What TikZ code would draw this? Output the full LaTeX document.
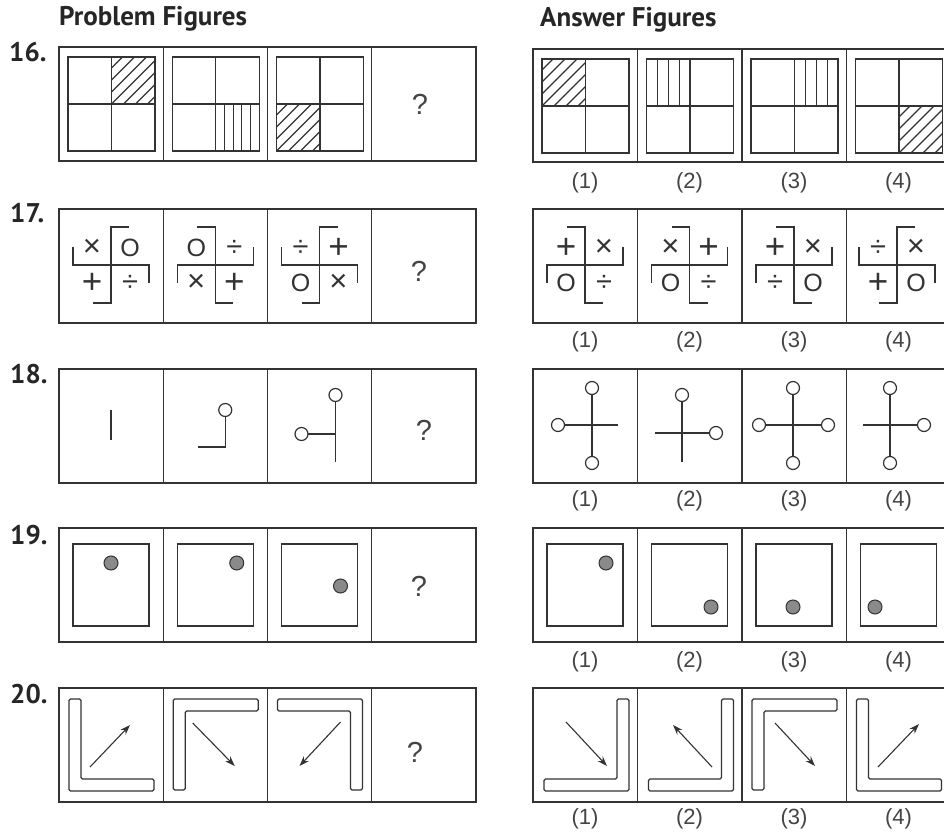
\documentclass[tikz,border=0pt]{standalone}
\usepackage{fontspec}
\setmainfont{Liberation Sans}
\newfontfamily\headfont{PT Sans}
\usetikzlibrary{arrows.meta}
\definecolor{ink}{HTML}{333333}
\definecolor{txt}{HTML}{444444}
\definecolor{dotc}{HTML}{8A8A8A}
\tikzset{
 cellbox/.style={draw=ink, line width=1.3pt},
 inner/.style={draw=ink, line width=1.2pt},
 hatch/.style={draw=ink, line width=1.1pt},
 fig/.style={draw=ink, line width=1.3pt},
 head/.style={font=\headfont\bfseries\fontsize{27}{27}\selectfont, text=black!85, inner sep=0pt, anchor=base west},
 qmark/.style={font=\fontsize{29}{29}\selectfont, text=txt, inner sep=0pt},
 lab/.style={font=\fontsize{22}{22}\selectfont, text=txt, inner sep=0pt},
 sym/.style={text=ink, inner sep=0pt},
 dot/.style={fill=dotc, draw=ink, line width=1pt},
 knob/.style={fill=white, draw=ink, line width=1.2pt},
 arr/.style={draw=ink, line width=1.1pt, -{Stealth[length=10pt,width=7pt]}},
}
\newcommand\symO{{\fontsize{25}{25}\selectfont O}}
\newcommand\symX{{\fontsize{31}{31}\selectfont ×}}
\newcommand\symP{{\fontsize{35}{35}\selectfont +}}
\newcommand\symD{{\fontsize{29}{29}\selectfont ÷}}
\newcommand\quadfig{\draw[inner] (9,10) rectangle (96,104) (52.5,10) -- (52.5,104) (9,57) -- (96,57);}
\newcommand\diaghatch[4]{\begin{scope}\clip (#1,#2) rectangle (#3,#4);\foreach \k in {-48,-36,...,48}{\draw[hatch] ({#1+\k},#4) -- ++(60,-60);}\end{scope}}
\newcommand\vhatch[3]{\foreach \v in {#1}{\draw[hatch] (\v,#2) -- (\v,#3);}}
\newcommand\swA{\draw[fig] (18,-38) -- (0,-38) -- (0,38) -- (-18,38) (-38,-18) -- (-38,0) -- (38,0) -- (38,18);}
\newcommand\swB{\draw[fig] (-18,-38) -- (0,-38) -- (0,38) -- (18,38) (-38,18) -- (-38,0) -- (38,0) -- (38,-18);}
\newcommand\syms[5]{\node[sym] (#1a) at (-19,-17) {#2}; \node[sym] (#1b) at (19,-17) {#3}; \node[sym] (#1c) at (-19,18) {#4}; \node[sym] (#1d) at (19,18) {#5};}
\newcommand\dotfig[2]{\draw[inner] (14,16) rectangle (90,98); \draw[dot] (#1,#2) circle[radius=7pt];}
\newcommand\shL{\draw[inner, rounded corners=1.5pt] (10,11) -- (10,103) -- (95,103) -- (95,91) -- (22,91) -- (22,11) -- cycle;}
\newcommand\shG{\draw[inner, rounded corners=1.5pt] (10,102) -- (10,11) -- (95,11) -- (95,23) -- (22,23) -- (22,102) -- cycle;}
\newcommand\shR{\draw[inner, rounded corners=1.5pt] (10,11) -- (95,11) -- (95,102) -- (83,102) -- (83,23) -- (10,23) -- cycle;}
\newcommand\shJ{\draw[inner, rounded corners=1.5pt] (84,11) -- (96,11) -- (96,103) -- (11,103) -- (11,91) -- (84,91) -- cycle;}
\begin{document}
\begin{tikzpicture}[x=1pt,y=-1pt]
\useasboundingbox (0,0) rectangle (944,834);
\clip (0,0) rectangle (944,834);
\fill[white] (0,0) rectangle (944,834);
% headers and numbers
\node[head] (hp) at (59,26) {Problem Figures};
\node[head] (ha) at (540,27) {Answer Figures};
\node[head] (n16) at (9,62) {16.};
\node[head] (n17) at (10,223) {17.};
\node[head] (n18) at (10,383) {18.};
\node[head] (n19) at (10,544) {19.};
\node[head] (n20) at (10,703) {20.};
% cell frames
\foreach \i in {0,1,2,3} {\draw[cellbox] ({59+104.25*\i},47) rectangle ++(104.25,114);}
\foreach \i in {0,1,2,3} {\draw[cellbox] ({533+104.5*\i},49) rectangle ++(104.5,113);}
\foreach \t in {209,369,528,688} {
  \foreach \i in {0,1,2,3} {\draw[cellbox] ({59+104.25*\i},\t) rectangle ++(104.25,114);}
  \foreach \i in {0,1,2,3} {\draw[cellbox] ({533+104.5*\i},\t) rectangle ++(104.5,114);}
}
% question marks
\node[qmark] (q16) at (420,104) {?};
\node[qmark] (q17) at (419,271) {?};
\node[qmark] (q18) at (424,430) {?};
\node[qmark] (q19) at (419,586) {?};
\node[qmark] (q20) at (415,752) {?};
% answer labels
\foreach \y/\r in {183/a,342/b,501/c,662/d,819/e} {
  \node[lab] (l\r1) at (585,\y) {(1)};
  \node[lab] (l\r2) at (689.5,\y) {(2)};
  \node[lab] (l\r3) at (794,\y) {(3)};
  \node[lab] (l\r4) at (898.5,\y) {(4)};
}
% ---- row 16
\begin{scope}[shift={(59,47)}] \diaghatch{52.5}{10}{96}{57} \quadfig \end{scope}
\begin{scope}[shift={(163.25,47)}] \vhatch{61.2,69.9,78.6,87.3}{57}{104} \quadfig \end{scope}
\begin{scope}[shift={(267.5,47)}] \diaghatch{9}{57}{52.5}{104} \quadfig \end{scope}
\begin{scope}[shift={(533,49)}] \diaghatch{9}{10}{52.5}{57} \quadfig \end{scope}
\begin{scope}[shift={(637.5,49)}] \vhatch{19.9,30.8,41.6}{10}{57} \quadfig \end{scope}
\begin{scope}[shift={(742,49)}] \vhatch{63.4,74.3,85.1}{10}{57} \quadfig \end{scope}
\begin{scope}[shift={(846.5,49)}] \diaghatch{52.5}{57}{96}{104} \quadfig \end{scope}
% ---- row 17
\begin{scope}[shift={(111,265)}] \swA \syms{pa}{\symX}{\symO}{\symP}{\symD} \end{scope}
\begin{scope}[shift={(215.25,265)}] \swB \syms{pb}{\symO}{\symD}{\symX}{\symP} \end{scope}
\begin{scope}[shift={(319.5,265)}] \swA \syms{pc}{\symD}{\symP}{\symO}{\symX} \end{scope}
\begin{scope}[shift={(585,265)}] \swB \syms{aa}{\symP}{\symX}{\symO}{\symD} \end{scope}
\begin{scope}[shift={(689.5,265)}] \swB \syms{ab}{\symX}{\symP}{\symO}{\symD} \end{scope}
\begin{scope}[shift={(794,265)}] \swB \syms{ac}{\symP}{\symX}{\symD}{\symO} \end{scope}
\begin{scope}[shift={(897,265)}] \swA \syms{ad}{\symD}{\symX}{\symP}{\symO} \end{scope}
% ---- row 18
\begin{scope}[shift={(59,369)}] \draw[fig] (52,41) -- (52,71); \end{scope}
\begin{scope}[shift={(163.25,369)}]
  \draw[fig] (62,41) -- (62,78) -- (34.5,78);
  \draw[knob] (62,41) circle[radius=6.5pt];
\end{scope}
\begin{scope}[shift={(267.5,369)}]
  \draw[fig] (68,26) -- (68,93) (68,65) -- (34,65);
  \draw[knob] (68,26) circle[radius=6.5pt] (34,65) circle[radius=6.5pt];
\end{scope}
\begin{scope}[shift={(533,369)}]
  \draw[fig] (59,19) -- (59,94) (25,56) -- (85,56);
  \draw[knob] (59,19) circle[radius=6.5pt] (59,94) circle[radius=6.5pt] (25,56) circle[radius=6.5pt];
\end{scope}
\begin{scope}[shift={(637.5,369)}]
  \draw[fig] (44.5,26) -- (44.5,93) (17.5,64) -- (78.5,64);
  \draw[knob] (44.5,26) circle[radius=6.5pt] (78.5,64) circle[radius=6.5pt];
\end{scope}
\begin{scope}[shift={(742,369)}]
  \draw[fig] (51,19) -- (51,94) (17,56) -- (86,56);
  \draw[knob] (51,19) circle[radius=6.5pt] (51,94) circle[radius=6.5pt] (17,56) circle[radius=6.5pt] (86,56) circle[radius=6.5pt];
\end{scope}
\begin{scope}[shift={(846.5,369)}]
  \draw[fig] (43.5,19) -- (43.5,94) (16.5,56) -- (77.5,56);
  \draw[knob] (43.5,19) circle[radius=6.5pt] (43.5,94) circle[radius=6.5pt] (77.5,56) circle[radius=6.5pt];
\end{scope}
% ---- row 19
\begin{scope}[shift={(59,528)}] \dotfig{52}{35} \end{scope}
\begin{scope}[shift={(163.25,528)}] \dotfig{73.5}{35} \end{scope}
\begin{scope}[shift={(267.5,528)}] \dotfig{73}{58} \end{scope}
\begin{scope}[shift={(533,528)}] \dotfig{73}{35} \end{scope}
\begin{scope}[shift={(637.5,528)}] \dotfig{73.5}{79} \end{scope}
\begin{scope}[shift={(742,528)}] \dotfig{51}{79} \end{scope}
\begin{scope}[shift={(846.5,528)}] \dotfig{28.5}{79} \end{scope}
% ---- row 20
\begin{scope}[shift={(59,688)}] \shL \draw[arr] (31,79) -- (71,37); \end{scope}
\begin{scope}[shift={(163.25,688)}] \shG \draw[arr] (29.5,35) -- (71.5,78); \end{scope}
\begin{scope}[shift={(267.5,688)}] \shR \draw[arr] (73,34) -- (32,78); \end{scope}
\begin{scope}[shift={(533,688)}] \shJ \draw[arr] (33,34) -- (74,78); \end{scope}
\begin{scope}[shift={(637.5,688)}] \shJ \draw[arr] (74.5,79) -- (35.5,37); \end{scope}
\begin{scope}[shift={(742,688)}] \shG \draw[arr] (33,35) -- (73,78); \end{scope}
\begin{scope}[shift={(846.5,688)}] \shL \draw[arr] (31.5,79) -- (72.5,36); \end{scope}
\end{tikzpicture}
\end{document}
